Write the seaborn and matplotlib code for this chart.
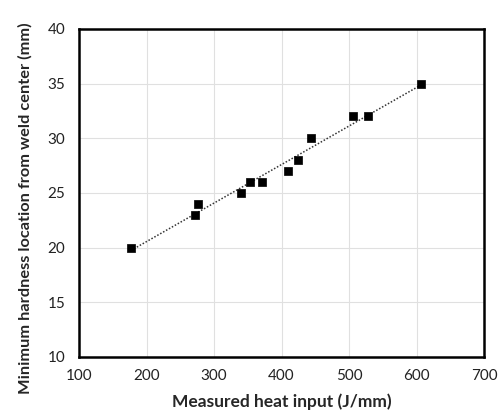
import numpy as np
import pandas as pd
import matplotlib
matplotlib.use("Agg")
import matplotlib.pyplot as plt
import seaborn as sns

heat_input = [177, 272, 276, 340, 354, 371, 410, 424, 444, 506, 528, 607]
hardness_loc = [20, 23, 24, 25, 26, 26, 27, 28, 30, 32, 32, 35]
x_ticks = [100, 200, 300, 400, 500, 600, 700]
y_ticks = [10, 15, 20, 25, 30, 35, 40]

df = pd.DataFrame({"heat": heat_input, "loc": hardness_loc})

sns.set_style("white")
plt.rcParams["font.family"] = ["Lato", "DejaVu Sans"]

fig = plt.figure(figsize=(4.98, 4.12), dpi=100)
ax = fig.add_axes([79 / 498, 1 - 357 / 412, (484 - 79) / 498, (357 - 29) / 412])

# linear trendline over the measured range
slope, intercept = np.polyfit(df["heat"], df["loc"], 1)
xs = np.array([df["heat"].min(), df["heat"].max()])
ax.plot(xs, slope * xs + intercept, linestyle=(0, (1, 1.2)), color="#333333", lw=1.1, zorder=2)

sns.scatterplot(data=df, x="heat", y="loc", marker="s", s=32, color="black",
                edgecolor="black", linewidth=0.5, ax=ax, zorder=3)

ax.set_xlim(100, 700)
ax.set_ylim(10, 40)
ax.set_xticks(x_ticks)
ax.set_yticks(y_ticks)
ax.grid(True, color="#e0e0e0", lw=0.8)
ax.set_axisbelow(True)
for s in ax.spines.values():
    s.set_visible(True)
    s.set_color("black")
    s.set_linewidth(1.8)
ax.tick_params(axis="both", length=0, labelsize=11, colors="#222222")
ax.tick_params(axis="x", pad=9)
ax.tick_params(axis="y", pad=10)
ax.set_xlabel("Measured heat input (J/mm)", fontsize=12.5, fontweight="bold", labelpad=7)
ax.set_ylabel("Minimum hardness location from weld center (mm)", fontsize=11.8,
              fontweight="bold")
ax.yaxis.set_label_coords(-46 / 405, (357 - 208) / 328)

fig.savefig("out.png", dpi=100)
